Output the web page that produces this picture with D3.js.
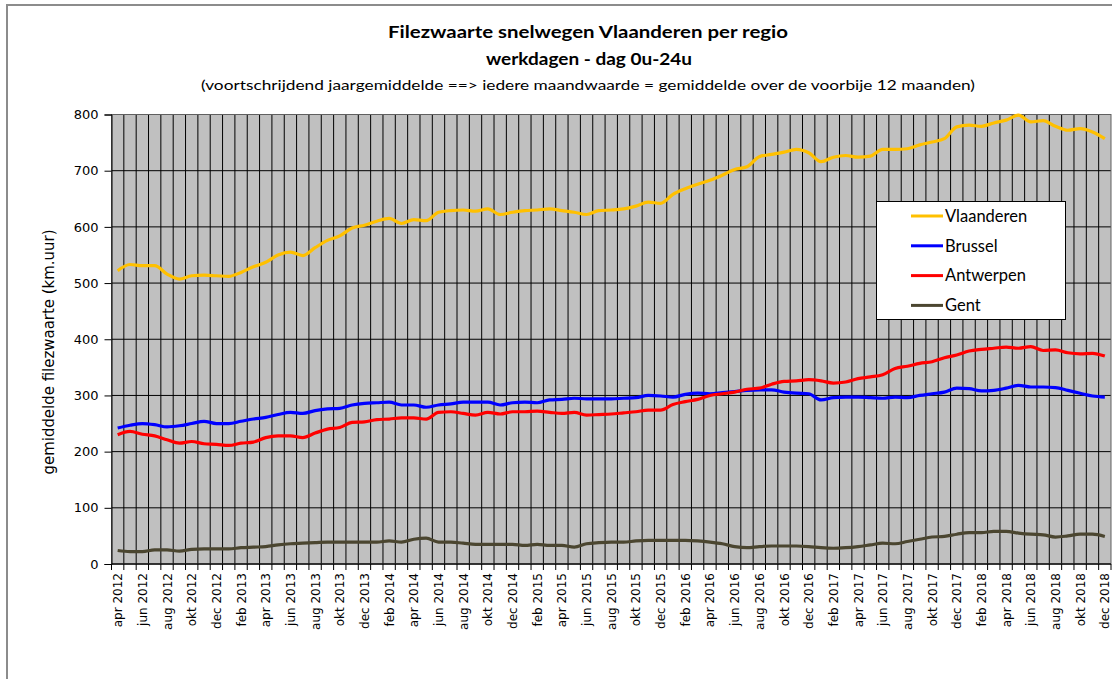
<!DOCTYPE html>
<html>
<head>
<meta charset="utf-8">
<script src="https://cdn.jsdelivr.net/npm/d3@7/dist/d3.min.js"></script>
<style>
  body { margin: 0; background: #fff; }
  svg { display: block; }
</style>
</head>
<body>
<script>
// maanden apr 2012 .. dec 2018
var monthNames = ["jan","feb","mrt","apr","mei","jun","jul","aug","sep","okt","nov","dec"];
var categories = [];
for (var y = 2012; y <= 2018; y++) {
  for (var m = 0; m < 12; m++) {
    if (y == 2012 && m < 3) continue;
    categories.push(monthNames[m] + " " + y);
  }
}

var yTicks = [0, 100, 200, 300, 400, 500, 600, 700, 800];

var vlaanderen = [522,533,531,531,516,507,513,514,513,512,519,529,537,550,555,549,563,576,584,598,
  603,610,615,606,613,611,626,629,630,628,632,622,626,629,630,632,629,626,622,629,
  630,632,637,644,642,658,668,676,683,692,702,707,725,729,733,738,732,716,724,727,
  724,726,738,738,739,746,751,757,778,781,779,785,790,799,787,789,779,772,775,769,757];

var brussel = [242,247,250,248,244,246,250,254,250,250,254,258,261,266,270,268,273,276,277,283,
  286,287,288,283,283,279,283,285,288,288,288,283,287,288,287,292,293,295,294,294,
  294,295,296,300,299,297,302,304,303,305,307,309,310,310,306,304,303,292,296,297,
  297,296,295,297,296,300,303,306,313,312,308,309,313,318,315,315,314,309,304,299,297];

var antwerpen = [230,236,231,228,221,215,218,214,213,211,215,217,225,228,228,225,233,240,243,252,
  253,257,258,260,260,258,270,271,268,265,270,267,271,271,272,270,268,270,265,266,
  267,269,271,274,274,284,289,293,300,303,306,311,313,320,325,326,328,326,322,324,
  330,333,337,348,352,357,360,367,372,379,382,384,386,384,387,380,381,376,374,375,370];

var gent = [24,22,22,25,25,23,26,27,27,27,29,30,31,34,36,37,38,39,39,39,
  39,39,41,39,44,46,39,39,37,35,35,35,35,33,35,33,33,30,36,38,
  39,39,41,42,42,42,42,41,39,36,31,29,31,32,32,32,31,29,28,29,
  31,34,37,36,40,44,48,49,53,56,56,58,58,55,53,52,48,50,53,53,49];

var series = [
  { name: "Vlaanderen", color: "#FFC000", values: vlaanderen },
  { name: "Brussel", color: "#0000FF", values: brussel },
  { name: "Antwerpen", color: "#FF0000", values: antwerpen },
  { name: "Gent", color: "#4B4630", values: gent }
];

var W = 1112, H = 679;
var plot = { left: 111.5, right: 1111, top: 114.5, bottom: 564 };

var svg = d3.select("body").append("svg")
  .attr("width", W)
  .attr("height", H);

// chart frame
svg.append("rect")
  .attr("x", 7).attr("y", 5)
  .attr("width", W + 20).attr("height", H + 20)
  .attr("fill", "#fff")
  .attr("stroke", "#8c8c8c")
  .attr("stroke-width", 2);

var x = d3.scaleBand()
  .domain(categories)
  .range([plot.left, plot.right])
  .padding(0);

var yScale = d3.scaleLinear()
  .domain([0, 800])
  .range([plot.bottom, plot.top]);

var bw = x.bandwidth();
function cx(c) { return x(c) + bw / 2; }

// plot area
svg.append("rect")
  .attr("x", plot.left).attr("y", plot.top)
  .attr("width", plot.right - plot.left)
  .attr("height", plot.bottom - plot.top)
  .attr("fill", "#C0C0C0");

// vertical gridlines on category boundaries
var bounds = categories.map(function(c) { return x(c); }).slice(1);
svg.append("g").selectAll("line")
  .data(bounds)
  .enter().append("line")
  .attr("x1", function(d) { return d; })
  .attr("x2", function(d) { return d; })
  .attr("y1", plot.top)
  .attr("y2", plot.bottom)
  .attr("stroke", "#000")
  .attr("stroke-width", 1);

// horizontal gridlines
svg.append("g").selectAll("line")
  .data(yTicks)
  .enter().append("line")
  .attr("x1", plot.left)
  .attr("x2", plot.right)
  .attr("y1", function(d) { return yScale(d); })
  .attr("y2", function(d) { return yScale(d); })
  .attr("stroke", "#000")
  .attr("stroke-width", 1);

// plot border
svg.append("rect")
  .attr("x", plot.left).attr("y", plot.top)
  .attr("width", plot.right - plot.left)
  .attr("height", plot.bottom - plot.top)
  .attr("fill", "none")
  .attr("stroke", "#606060")
  .attr("stroke-width", 1);

// y axis
var yAxis = d3.axisLeft(yScale)
  .tickValues(yTicks)
  .tickSize(7)
  .tickPadding(6);

var gy = svg.append("g")
  .attr("transform", "translate(" + plot.left + ",0)")
  .call(yAxis);
gy.select(".domain").attr("stroke", "#000");
gy.selectAll(".tick line").attr("stroke", "#000");
gy.selectAll("text")
  .style("font-family", "'DejaVu Sans', Verdana, sans-serif")
  .style("font-size", "13px")
  .attr("fill", "#000");

// x axis: ticks on boundaries, labels on every second month
var gx = svg.append("g")
  .attr("transform", "translate(0," + plot.bottom + ")");
gx.append("line")
  .attr("x1", plot.left).attr("x2", plot.right)
  .attr("stroke", "#000");
gx.selectAll(".tk")
  .data(categories.map(function(c) { return x(c); }).concat([plot.right]))
  .enter().append("line")
  .attr("class", "tk")
  .attr("x1", function(d) { return d; })
  .attr("x2", function(d) { return d; })
  .attr("y1", 0).attr("y2", 6)
  .attr("stroke", "#000");
gx.selectAll(".lbl")
  .data(categories.filter(function(c, i) { return i % 2 == 0; }))
  .enter().append("text")
  .attr("class", "lbl")
  .attr("transform", function(d) { return "translate(" + (cx(d) + 4.5) + ",9) rotate(-90)"; })
  .attr("text-anchor", "end")
  .style("font-family", "'DejaVu Sans', Verdana, sans-serif")
  .style("font-size", "12px")
  .text(function(d) { return d; });

// lines
var line = d3.line()
  .x(function(d, i) { return cx(categories[i]); })
  .y(function(d) { return yScale(d); })
  .curve(d3.curveMonotoneX);

svg.append("g").selectAll("path")
  .data(series)
  .enter().append("path")
  .attr("d", function(s) { return line(s.values); })
  .attr("fill", "none")
  .attr("stroke", function(s) { return s.color; })
  .attr("stroke-width", 3.2)
  .attr("stroke-linejoin", "round");

// titles
var title = svg.append("g")
  .style("font-family", "Lato, 'Open Sans', sans-serif")
  .attr("text-anchor", "middle");
title.append("text")
  .attr("x", 588).attr("y", 38)
  .style("font-size", "17px").style("font-weight", "bold")
  .attr("textLength", 400).attr("lengthAdjust", "spacingAndGlyphs")
  .text("Filezwaarte snelwegen Vlaanderen per regio");
title.append("text")
  .attr("x", 589).attr("y", 65)
  .style("font-size", "17px").style("font-weight", "bold")
  .attr("textLength", 206).attr("lengthAdjust", "spacingAndGlyphs")
  .text("werkdagen - dag 0u-24u");
title.append("text")
  .attr("x", 588).attr("y", 90)
  .style("font-size", "14px")
  .attr("textLength", 774).attr("lengthAdjust", "spacingAndGlyphs")
  .text("(voortschrijdend  jaargemiddelde ==> iedere maandwaarde = gemiddelde over de voorbije 12 maanden)");

// y axis title
svg.append("text")
  .attr("transform", "translate(54,352) rotate(-90)")
  .attr("text-anchor", "middle")
  .style("font-family", "'DejaVu Sans', Verdana, sans-serif")
  .style("font-size", "15px")
  .attr("textLength", 245).attr("lengthAdjust", "spacingAndGlyphs")
  .text("gemiddelde filezwaarte  (km.uur)");

// legend
var legend = svg.append("g");
legend.append("rect")
  .attr("x", 876.5).attr("y", 201.5)
  .attr("width", 189).attr("height", 118)
  .attr("fill", "#fff")
  .attr("stroke", "#000")
  .attr("stroke-width", 1);
var items = legend.selectAll(".item")
  .data(series)
  .enter().append("g")
  .attr("class", "item")
  .attr("transform", function(d, i) { return "translate(0," + (216 + i * 29.8) + ")"; });
items.append("line")
  .attr("x1", 911).attr("x2", 943)
  .attr("stroke", function(d) { return d.color; })
  .attr("stroke-width", 3);
items.append("text")
  .attr("x", 945).attr("dy", "0.35em")
  .style("font-family", "Lato, 'Open Sans', sans-serif")
  .style("font-size", "16.5px")
  .text(function(d) { return d.name; });
</script>
</body>
</html>
